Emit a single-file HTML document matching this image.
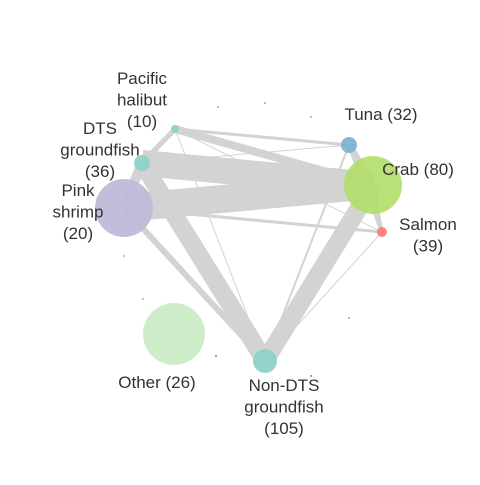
<!DOCTYPE html>
<html><head><meta charset="utf-8"><style>
html,body{margin:0;padding:0;background:#fff;}
svg text{font-family:"Liberation Sans",sans-serif;font-size:17px;fill:#333;text-anchor:middle;}
</style></head><body>
<svg id="chart" width="480" height="480" viewBox="0 0 480 480">
<g id="edges"></g>
<g id="dots"></g>
<g id="nodes"></g>
<g id="labels"></g>
</svg>
<script>
const nodeNames = ["Pacific halibut","Tuna","DTS groundfish","Crab","Pink shrimp","Salmon","Other","Non-DTS groundfish"];
const nodeCounts = [10,32,36,80,20,39,26,105];
const nodeX = [175,349,142,373,124,382,174,265];
const nodeY = [129,145,163,185,208,232,334,361];
const nodeR = [4,8,8,29,29,5,31,12];
const nodeColors = ["#8dd3c7","#80b1d3","#8dd3c7","#b3de69","#bebada","#fb8072","#ccebc5","#8dd3c7"];
const edgeFrom = [2,4,4,0,0,0,0,0,2,4,3,1,3,1,3,4,2,5,2];
const edgeTo   = [3,3,2,3,1,2,5,7,7,7,7,7,1,5,5,5,1,7,0];
const edgeWeight = [26,28,10,8,3,5,1,1,18,6,18,2,7,4,3,3,1,1,5];
const labelLines = [["Pacific","halibut","(10)"],["Tuna (32)"],["DTS","groundfish","(36)"],["Crab (80)"],["Pink","shrimp","(20)"],["Salmon","(39)"],["Other (26)"],["Non-DTS","groundfish","(105)"]];
const labelX = [142,381,100,418,78,428,157,284];
const labelY = [84,120,134,175,196,230,388,391];
const dotX = [218,265,311,124,143,216,349,311,346];
const dotY = [107,103,117,256,299,356,318,376,215];
const dotColor = ["#bebada","#8dd3c7","#bebada","#fdb462","#fdb462","#bc80bd","#8dd3c7","#fb8072","#fccde5"];
const NS="http://www.w3.org/2000/svg";
const eg=document.getElementById('edges'),ng=document.getElementById('nodes'),lg=document.getElementById('labels'),dg=document.getElementById('dots');
for(let i=0;i<edgeFrom.length;i++){
  const l=document.createElementNS(NS,'line');
  l.setAttribute('x1',nodeX[edgeFrom[i]]);l.setAttribute('y1',nodeY[edgeFrom[i]]);
  l.setAttribute('x2',nodeX[edgeTo[i]]);l.setAttribute('y2',nodeY[edgeTo[i]]);
  l.setAttribute('stroke','#d3d3d3');l.setAttribute('stroke-width',edgeWeight[i]);
  
  
  eg.appendChild(l);
}
for(let i=0;i<dotX.length;i++){
  const c=document.createElementNS(NS,'rect');
  c.setAttribute('x',dotX[i]-1);c.setAttribute('y',dotY[i]-1);c.setAttribute('width',2);c.setAttribute('height',2);
  c.setAttribute('fill',dotColor[i]);
  
  
  dg.appendChild(c);
}
for(let i=0;i<nodeNames.length;i++){
  const c=document.createElementNS(NS,'circle');
  c.setAttribute('cx',nodeX[i]);c.setAttribute('cy',nodeY[i]);c.setAttribute('r',nodeR[i]);
  c.setAttribute('fill',nodeColors[i]);c.setAttribute('fill-opacity',i===3?0.9:0.95);
  
  
  ng.appendChild(c);
  const t=document.createElementNS(NS,'text');
  t.setAttribute('x',labelX[i]);t.setAttribute('y',labelY[i]);
  
  
  labelLines[i].forEach((s,k)=>{const ts=document.createElementNS(NS,'tspan');ts.setAttribute('x',labelX[i]);ts.setAttribute('dy',k?21.5:0);ts.textContent=s;t.appendChild(ts);});
  lg.appendChild(t);
}
</script>
</body></html>
